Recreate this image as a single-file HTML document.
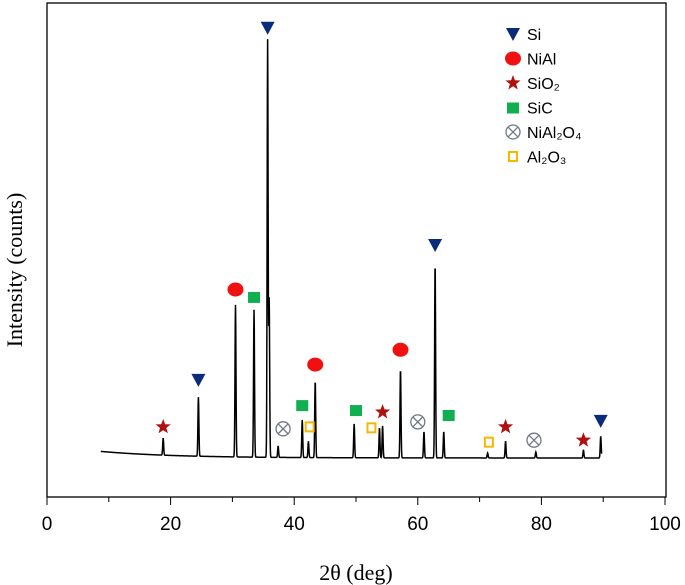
<!DOCTYPE html>
<html><head><meta charset="utf-8"><style>
html,body{margin:0;padding:0;background:#fff;}
svg{display:block;}
</style></head><body>
<svg id="chart" width="685" height="585" viewBox="0 0 685 585" xmlns="http://www.w3.org/2000/svg">
<rect x="47" y="3" width="619" height="494" fill="none" stroke="#000" stroke-width="1.3"/>
<g id="xticks"></g>
<path id="spectrum" fill="none" stroke="#000" stroke-width="1.5"/>
<g id="markers"></g>
<text x="356" y="580" text-anchor="middle" font-family="Liberation Serif, serif" font-size="22">2θ (deg)</text>
<text transform="translate(22,270) rotate(-90)" text-anchor="middle" font-family="Liberation Serif, serif" font-size="22">Intensity (counts)</text>
<g id="legend" font-family="Liberation Sans, sans-serif" font-size="16"></g>
</svg>
<script>
const xTicks=[0,20,40,60,80,100];
const xMinor=[10,30,50,70,90];
const peakPos=[18.8,24.5,30.5,33.5,35.7,35.95,37.4,41.3,42.3,43.4,49.7,53.8,54.3,57.2,61.0,62.8,64.2,71.3,74.2,79.1,86.8,89.6];
const peakTop=[11.9,20.2,38.9,37.9,92.5,40,10.3,15.6,11.3,23.5,14.8,14.0,14.4,25.9,13.2,47.4,13.2,8.9,11.3,9.1,9.5,12.3];
const siPos=[35.7,24.5,62.8,89.6];const siI=[95,23.7,51,15.4];
const niAlPos=[30.5,43.4,57.2];const niAlI=[42,26.8,29.8];
const sio2Pos=[18.8,54.3,74.2,86.8];const sio2I=[14.2,17.2,14.2,11.5];
const sicPos=[33.5,41.3,50.0,65.0];const sicI=[40.5,18.6,17.6,16.6];
const nial2o4Pos=[38.2,60.0,78.8];const nial2o4I=[13.8,15.2,11.5];
const al2o3Pos=[42.5,52.5,71.5];const al2o3I=[14.2,14.0,11.1];
const legendLabels=["Si","NiAl","SiO₂","SiC","NiAl₂O₄","Al₂O₃"];
const NS="http://www.w3.org/2000/svg";
const X=v=>47+v*6.18, Y=v=>497-v*4.94;
function base(t){return 7.9+1.3*Math.exp(-(t-9)/12);}
let d="";
for(let t=8.7;t<=89.75;t+=0.04){let v=base(t);
 peakPos.forEach((p,i)=>{v+=(peakTop[i]-base(p))*Math.exp(-Math.pow((t-p)/0.11,2));});
 d+=(d?"L":"M")+X(t).toFixed(2)+","+Y(v).toFixed(2);}
document.getElementById("spectrum").setAttribute("d",d);
const xt=document.getElementById("xticks");
xTicks.forEach(v=>{const l=document.createElementNS(NS,"line");
 l.setAttribute("x1",X(v));l.setAttribute("x2",X(v));l.setAttribute("y1",497);l.setAttribute("y2",505);l.setAttribute("stroke","#000");
 
 xt.appendChild(l);
 const t=document.createElementNS(NS,"text");t.setAttribute("x",X(v));t.setAttribute("y",530);t.setAttribute("text-anchor","middle");
 t.setAttribute("font-family","Liberation Sans, sans-serif");t.setAttribute("font-size","19");t.textContent=v;
 
 xt.appendChild(t);});
xMinor.forEach(v=>{const l=document.createElementNS(NS,"line");
 l.setAttribute("x1",X(v));l.setAttribute("x2",X(v));l.setAttribute("y1",497);l.setAttribute("y2",502);l.setAttribute("stroke","#000");
 
 xt.appendChild(l);});
function sym(type,cx,cy,g){let s;
 if(type==0){s=document.createElementNS(NS,"path");s.setAttribute("d",`M${cx-7},${cy-6}L${cx+7},${cy-6}L${cx},${cy+7}Z`);s.setAttribute("fill","#0a2a7a");}
 else if(type==1){s=document.createElementNS(NS,"ellipse");s.setAttribute("cx",cx);s.setAttribute("cy",cy);s.setAttribute("rx",8);s.setAttribute("ry",7);s.setAttribute("fill","#f01010");}
 else if(type==2){s=document.createElementNS(NS,"path");let p="";for(let k=0;k<10;k++){const r=k%2?3.3:8,a=-Math.PI/2+k*Math.PI/5;p+=(k?"L":"M")+(cx+r*Math.cos(a)).toFixed(1)+","+(cy+r*Math.sin(a)).toFixed(1);}s.setAttribute("d",p+"Z");s.setAttribute("fill","#b01010");}
 else if(type==3){s=document.createElementNS(NS,"rect");s.setAttribute("x",cx-6);s.setAttribute("y",cy-5);s.setAttribute("width",12);s.setAttribute("height",11);s.setAttribute("fill","#10b050");}
 else if(type==4){s=document.createElementNS(NS,"path");s.setAttribute("d",`M${cx-7},${cy}a7,7 0 1,0 14,0a7,7 0 1,0 -14,0M${cx-4.9},${cy-4.9}L${cx+4.9},${cy+4.9}M${cx+4.9},${cy-4.9}L${cx-4.9},${cy+4.9}`);s.setAttribute("fill","none");s.setAttribute("stroke","#707888");s.setAttribute("stroke-width","1.3");}
 else {s=document.createElementNS(NS,"rect");s.setAttribute("x",cx-4);s.setAttribute("y",cy-4.5);s.setAttribute("width",8);s.setAttribute("height",9);s.setAttribute("fill","none");s.setAttribute("stroke","#f5b800");s.setAttribute("stroke-width","2");}
 
 
 g.appendChild(s);}
const mg=document.getElementById("markers");
[[siPos,siI],[niAlPos,niAlI],[sio2Pos,sio2I],[sicPos,sicI],[nial2o4Pos,nial2o4I],[al2o3Pos,al2o3I]].forEach((s,k)=>{
 s[0].forEach((p,i)=>sym(k,X(p),Y(s[1][i]),mg));});
const lg=document.getElementById("legend");
legendLabels.forEach((lab,k)=>{const cy=34+k*24.5;sym(k,513,cy,lg);
 const t=document.createElementNS(NS,"text");t.setAttribute("x",527);t.setAttribute("y",cy+6);t.textContent=lab;
 
 lg.appendChild(t);});
</script>
</body></html>
